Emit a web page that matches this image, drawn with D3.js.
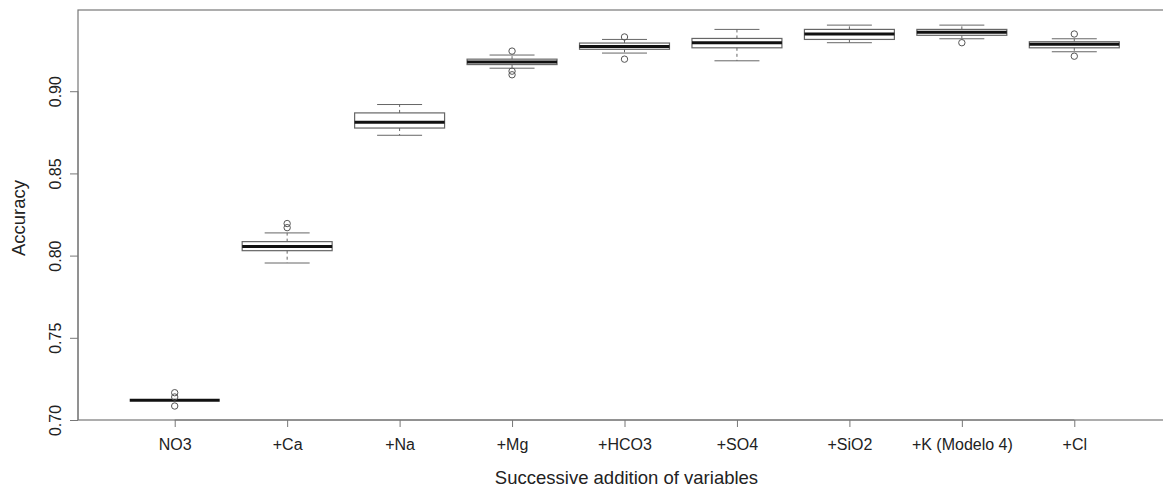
<!DOCTYPE html>
<html>
<head>
<meta charset="utf-8">
<script src="https://cdn.jsdelivr.net/npm/d3@7"></script>
<style>
  html, body { margin: 0; padding: 0; background: #fff; }
  svg { display: block; }
  text { font-family: "Liberation Sans", Arial, Helvetica, sans-serif; fill: #222; }
</style>
</head>
<body>
<svg id="chart" width="1163" height="492"></svg>
<script>
const categories = ["NO3", "+Ca", "+Na", "+Mg", "+HCO3", "+SO4", "+SiO2", "+K (Modelo 4)", "+Cl"];
const whiskerLow  = [0.7120, 0.7955, 0.8732, 0.9140, 0.9232, 0.9185, 0.9295, 0.9319, 0.9240];
const q1          = [0.7120, 0.8030, 0.8776, 0.9162, 0.9255, 0.9264, 0.9315, 0.9340, 0.9264];
const medians     = [0.7120, 0.8055, 0.8811, 0.9177, 0.9272, 0.9295, 0.9348, 0.9358, 0.9285];
const q3          = [0.7120, 0.8085, 0.8868, 0.9195, 0.9293, 0.9321, 0.9376, 0.9376, 0.9301];
const whiskerHigh = [0.7120, 0.8138, 0.8919, 0.9220, 0.9315, 0.9376, 0.9402, 0.9402, 0.9319];
const outliers    = [
  [0.7166, 0.7140, 0.7085],
  [0.8195, 0.8170],
  [],
  [0.9244, 0.9122, 0.9100],
  [0.9330, 0.9195],
  [],
  [],
  [0.9295],
  [0.9348, 0.9213]
];
const yTicks = [0.70, 0.75, 0.80, 0.85, 0.90];
const xTitle = "Successive addition of variables";
const yTitle = "Accuracy";

(function () {
const svg = d3.select("#chart");
const mLeft = 78, mRight = 1171, mTop = 10, mBottom = 420;

const x = d3.scaleLinear().domain([0.14, categories.length + 0.86]).range([mLeft, mRight]);
const y = d3.scaleLinear().domain([0.70, 0.9494]).range([mBottom, mTop]);
const step = x(2) - x(1);
const boxW = step * 0.8;
const capW = boxW * 0.5;

const lineCol = "#666";

const g = svg.append("g");
categories.forEach((c, i) => {
  const cx = x(i + 1);
  const grp = g.append("g");
  grp.append("line").attr("x1", cx).attr("x2", cx)
    .attr("y1", y(q3[i])).attr("y2", y(whiskerHigh[i]))
    .attr("stroke", lineCol).attr("stroke-dasharray", "3,3");
  grp.append("line").attr("x1", cx).attr("x2", cx)
    .attr("y1", y(q1[i])).attr("y2", y(whiskerLow[i]))
    .attr("stroke", lineCol).attr("stroke-dasharray", "3,3");
  if (whiskerHigh[i] !== q3[i]) {
    grp.append("line").attr("x1", cx - capW / 2).attr("x2", cx + capW / 2)
      .attr("y1", y(whiskerHigh[i])).attr("y2", y(whiskerHigh[i]))
      .attr("stroke", lineCol);
  }
  if (whiskerLow[i] !== q1[i]) {
    grp.append("line").attr("x1", cx - capW / 2).attr("x2", cx + capW / 2)
      .attr("y1", y(whiskerLow[i])).attr("y2", y(whiskerLow[i]))
      .attr("stroke", lineCol);
  }
  grp.append("rect")
    .attr("x", cx - boxW / 2).attr("width", boxW)
    .attr("y", y(q3[i])).attr("height", Math.max(0, y(q1[i]) - y(q3[i])))
    .attr("fill", "none").attr("stroke", lineCol).attr("stroke-width", 1.2);
  grp.append("line").attr("x1", cx - boxW / 2).attr("x2", cx + boxW / 2)
    .attr("y1", y(medians[i])).attr("y2", y(medians[i]))
    .attr("stroke", "#111").attr("stroke-width", 3);
  grp.selectAll("circle").data(outliers[i]).join("circle")
    .attr("cx", cx).attr("cy", d => y(d)).attr("r", 3.2)
    .attr("fill", "none").attr("stroke", "#555").attr("stroke-width", 1);
});

svg.append("rect").attr("x", mLeft).attr("y", mTop)
  .attr("width", mRight - mLeft).attr("height", mBottom - mTop)
  .attr("fill", "none").attr("stroke", "#777").attr("stroke-width", 1.2);

const yAxis = d3.axisLeft(y).tickValues(yTicks).tickFormat(d3.format(".2f")).tickSize(8).tickSizeOuter(0);
const ya = svg.append("g").attr("transform", `translate(${mLeft},0)`).call(yAxis);
ya.select(".domain").attr("d", `M0,${y(yTicks[0])}V${y(yTicks[yTicks.length-1])}`).attr("stroke", "#777");
ya.selectAll(".tick line").attr("stroke", "#777");
ya.selectAll(".tick text")
  .attr("x", 0).attr("dy", null).attr("y", 0)
  .attr("transform", "translate(-17,0) rotate(-90)")
  .attr("text-anchor", "middle")
  .style("font-size", "16px").style("font-family", "Liberation Sans, Arial, sans-serif").attr("fill", "#222");

const xAxis = d3.axisBottom(x).tickValues(d3.range(1, categories.length + 1))
  .tickFormat(d => categories[d - 1]).tickSize(7).tickSizeOuter(0);
const xa = svg.append("g").attr("transform", `translate(0,${mBottom})`).call(xAxis);
xa.select(".domain").attr("d", `M${x(1)},0H${x(categories.length)}`).attr("stroke", "#777");
xa.selectAll(".tick line").attr("stroke", "#777");
xa.selectAll(".tick text").attr("y", 30).attr("dy", null)
  .style("font-size", "16px").style("font-family", "Liberation Sans, Arial, sans-serif").attr("fill", "#222");

svg.append("text").attr("x", (mLeft + mRight) / 2 + 2).attr("y", 484)
  .attr("text-anchor", "middle").style("font-size", "18.5px").text(xTitle);
svg.append("text").attr("transform", `translate(25,${(mTop + mBottom) / 2 + 3}) rotate(-90)`)
  .attr("text-anchor", "middle").style("font-size", "18.5px").text(yTitle);
})();
</script>
</body>
</html>
